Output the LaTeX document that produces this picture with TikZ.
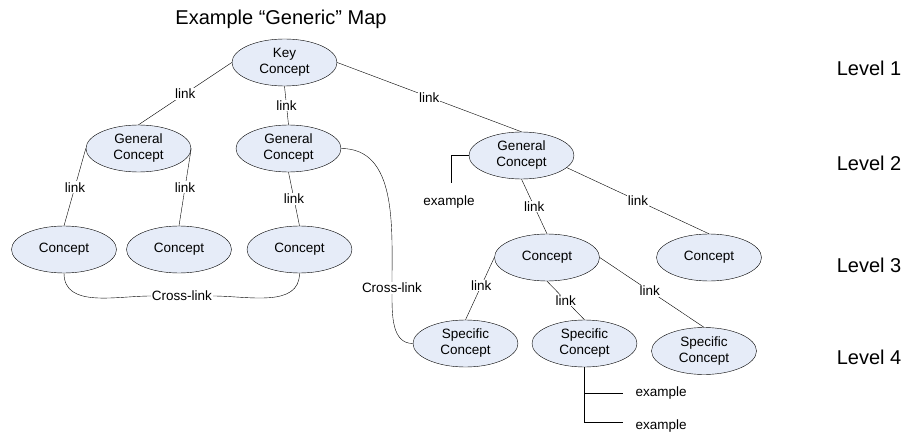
\documentclass[tikz,border=0pt]{standalone}
\usepackage{fontspec}
\setmainfont{Liberation Sans}
\usetikzlibrary{shapes.geometric}

\begin{document}
\begin{tikzpicture}[x=1pt, y=-1pt,
    concept/.style={ellipse, draw, fill={rgb,255:red,230;green,236;blue,248},
      minimum width=105pt, minimum height=47pt, inner sep=0pt, align=center,
      font=\fontsize{13.5}{16}\selectfont},
    lbl/.style={fill=white, inner sep=1pt, font=\fontsize{13.5}{16}\selectfont},
    txt/.style={font=\fontsize{13.5}{16}\selectfont},
    level/.style={font=\fontsize{20}{24}\selectfont}]
      \useasboundingbox (0,0) rectangle (908,433);

      \node[level] (TTL) at (281, 19) {Example “Generic” Map};

      \node[concept] (KC) at (284.5, 62.5) {Key\\Concept};
      \node[concept] (GCL) at (138.5, 148.5) {General\\Concept};
      \node[concept] (GCM) at (288.5, 148.5) {General\\Concept};
      \node[concept] (GCR) at (521.5, 155.5) {General\\Concept};
      \node[concept] (CA) at (64, 249.5) {Concept};
      \node[concept] (CB) at (179, 249.5) {Concept};
      \node[concept] (CC) at (299.5, 249.5) {Concept};
      \node[concept] (CM) at (547, 257.5) {Concept};
      \node[concept] (CR) at (709, 257.5) {Concept};
      \node[concept] (SA) at (465.5, 343.5) {Specific\\Concept};
      \node[concept] (SB) at (584.5, 343.5) {Specific\\Concept};
      \node[concept] (SC) at (704, 351) {Specific\\Concept};

      \node[level] (LA) at (869, 68) {Level 1};
      \node[level] (LB) at (869, 163) {Level 2};
      \node[level] (LC) at (869, 265) {Level 3};
      \node[level] (LD) at (869, 357) {Level 4};

      \draw (KC.west) to node[lbl, pos=0.5]{link} (GCL.north);
      \draw (KC.south) to node[lbl]{link} (GCM.north);
      \draw (KC.east) to node[lbl, pos=0.5]{link} (GCR.north);
      \draw (GCL.west) to node[lbl]{link} (CA.north);
      \draw (GCL.east) to node[lbl]{link} (CB.north);
      \draw (GCM.south) to node[lbl]{link} (CC.north);
      \draw (GCR.south) to node[lbl]{link} (CM.north);
      \draw (GCR.-15) to node[lbl]{link} (CR.north);
      \draw (CM.west) to node[lbl, pos=0.45]{link} (SA.north);
      \draw (CM.south) to node[lbl]{link} (SB.north);
      \draw (CM.east) to node[lbl, pos=0.48]{link} (SC.north);

      % cross-links
      \node[txt, inner sep=1pt] (XA) at (182, 296) {Cross-link};
      \draw (CA.south) to[out=-90, in=180] (XA.west);
      \draw (XA.east) to[out=0, in=-90] (CC.south);
      \node[txt, inner sep=1pt] (XB) at (392, 288) {Cross-link};
      \draw (GCM.east) to[out=0, in=90] (XB.north);
      \draw (XB.south) to[out=-90, in=180] (SA.west);

      % examples
      \node[txt] (EA) at (449, 202) {example};
      \coordinate (EAend) at (451, 183);
      \draw (GCR.west) -| (EAend);
      \node[txt, anchor=west] (EB) at (632, 393) {example};
      \node[txt, anchor=west] (EC) at (632, 426) {example};
      \coordinate (EBend) at (623, 393);
      \coordinate (ECend) at (623, 422);
      \draw (SB.south) |- (ECend);
      \draw (SB.south |- EBend) -- (EBend);
    \end{tikzpicture}
\end{document}
